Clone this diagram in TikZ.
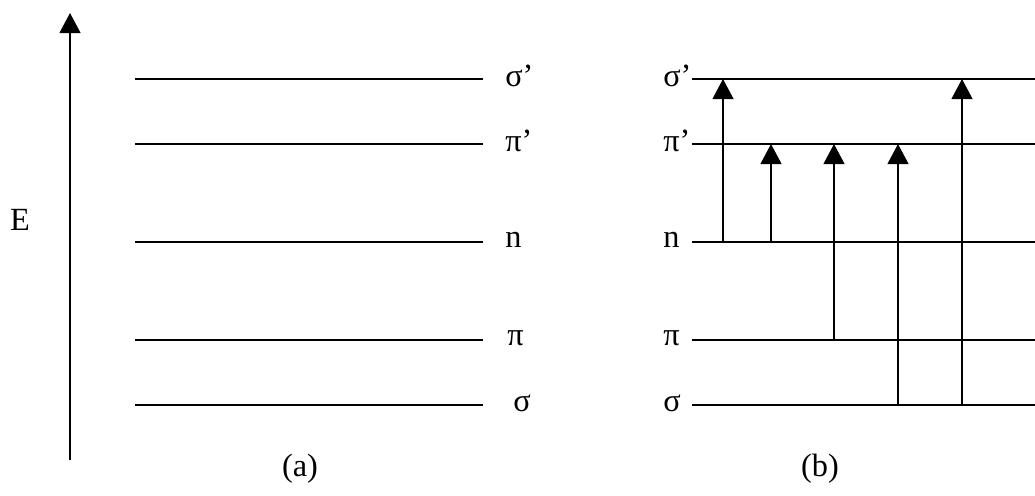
\documentclass[tikz,border=0pt]{standalone}
\usepackage{fontspec}
\setmainfont{Liberation Serif}
\usetikzlibrary{arrows.meta,positioning}

\begin{document}
\begin{tikzpicture}[x=0.025cm,y=-0.025cm,
  lvl/.style={line width=1.3pt},
  trans/.style={line width=1.3pt,-{Triangle[width=0.52cm,length=0.5cm]}},
  lab/.style={anchor=west,inner sep=0pt,font=\fontsize{23}{27}\selectfont}]
  \useasboundingbox (0,0) rectangle (1035,495);
  % energy axis
  \coordinate (Elo) at (70,460);
  \coordinate (Ehi) at (70,13);
  \draw[trans] (Elo) -- (Ehi);
  \node[lab,anchor=center] (E) at (20,220) {E};
  % (a) levels
  \coordinate (aS1) at (135,79);  \coordinate (aS2) at (483,79);
  \coordinate (aP1) at (135,144); \coordinate (aP2) at (483,144);
  \coordinate (aN1) at (135,242); \coordinate (aN2) at (483,242);
  \coordinate (ap1) at (135,340); \coordinate (ap2) at (483,340);
  \coordinate (as1) at (135,405); \coordinate (as2) at (483,405);
  \draw[lvl] (aS1) -- (aS2);
  \draw[lvl] (aP1) -- (aP2);
  \draw[lvl] (aN1) -- (aN2);
  \draw[lvl] (ap1) -- (ap2);
  \draw[lvl] (as1) -- (as2);
  \node[lab] (aSl) at (505,76) {σ’};
  \node[lab] (aPl) at (505,141) {π’};
  \node[lab] (aNl) at (505,240) {n};
  \node[lab] (apl) at (507,338) {π};
  \node[lab] (asl) at (513,403) {σ};
  \node[lab,anchor=center] (capA) at (300,469) {(a)};
  % (b) levels
  \coordinate (bS1) at (692,79);  \coordinate (bS2) at (1035,79);
  \coordinate (bP1) at (692,144); \coordinate (bP2) at (1035,144);
  \coordinate (bN1) at (692,242); \coordinate (bN2) at (1035,242);
  \coordinate (bp1) at (692,340); \coordinate (bp2) at (1035,340);
  \coordinate (bs1) at (692,405); \coordinate (bs2) at (1035,405);
  \draw[lvl] (bS1) -- (bS2);
  \draw[lvl] (bP1) -- (bP2);
  \draw[lvl] (bN1) -- (bN2);
  \draw[lvl] (bp1) -- (bp2);
  \draw[lvl] (bs1) -- (bs2);
  \node[lab] (bSl) at (663,76) {σ’};
  \node[lab] (bPl) at (663,141) {π’};
  \node[lab] (bNl) at (663,240) {n};
  \node[lab] (bpl) at (663,338) {π};
  \node[lab] (bsl) at (663,403) {σ};
  \node[lab,anchor=center] (capB) at (820,469) {(b)};
  % transitions
  \coordinate (t1a) at (723,242); \coordinate (t1b) at (723,79);
  \coordinate (t2a) at (771,242); \coordinate (t2b) at (771,144);
  \coordinate (t3a) at (834,340); \coordinate (t3b) at (834,144);
  \coordinate (t4a) at (898,405); \coordinate (t4b) at (898,144);
  \coordinate (t5a) at (962,405); \coordinate (t5b) at (962,79);
  \draw[trans] (t1a) -- (t1b);
  \draw[trans] (t2a) -- (t2b);
  \draw[trans] (t3a) -- (t3b);
  \draw[trans] (t4a) -- (t4b);
  \draw[trans] (t5a) -- (t5b);
\end{tikzpicture}
\end{document}
